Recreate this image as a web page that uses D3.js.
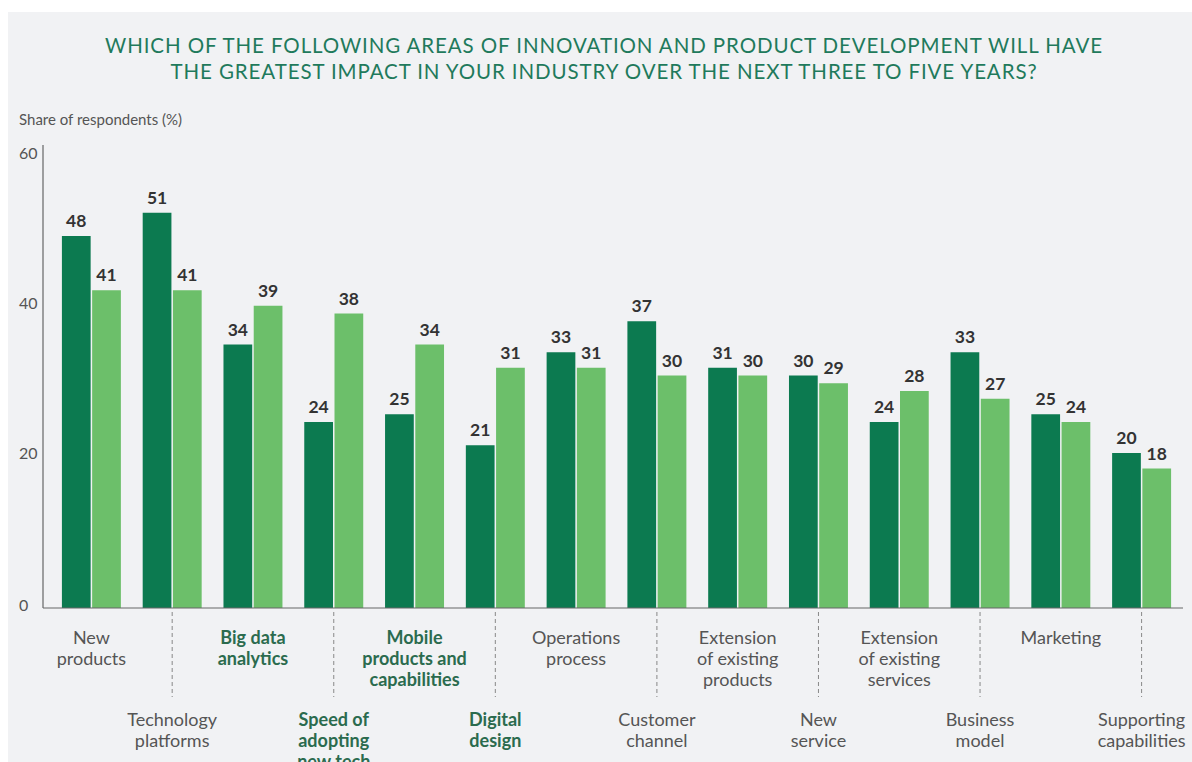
<!DOCTYPE html>
<html>
<head>
<meta charset="utf-8">
<script src="https://cdn.jsdelivr.net/npm/d3@7"></script>
<style>
  html, body { margin: 0; padding: 0; background: #ffffff; }
  svg { display: block; }
</style>
</head>
<body>
<svg id="chart" width="1192" height="762"></svg>
<script>
// Innovation areas expected to have the greatest impact (share of respondents, %)
const categories = [
  "New products", "Technology platforms", "Big data analytics", "Speed of adopting new tech",
  "Mobile products and capabilities", "Digital design", "Operations process", "Customer channel",
  "Extension of existing products", "New service", "Extension of existing services",
  "Business model", "Marketing", "Supporting capabilities"
];
const categoryLines = [
  ["New", "products"], ["Technology", "platforms"], ["Big data", "analytics"],
  ["Speed of", "adopting", "new tech"], ["Mobile", "products and", "capabilities"],
  ["Digital", "design"], ["Operations", "process"], ["Customer", "channel"],
  ["Extension", "of existing", "products"], ["New", "service"],
  ["Extension", "of existing", "services"], ["Business", "model"], ["Marketing"],
  ["Supporting", "capabilities"]
];
const highlighted = ["Big data analytics", "Speed of adopting new tech",
  "Mobile products and capabilities", "Digital design"];
const seriesNames = ["Series A", "Series B"];
const seriesA = [48, 51, 34, 24, 25, 21, 33, 37, 31, 30, 24, 33, 25, 20];
const seriesB = [41, 41, 39, 38, 34, 31, 31, 30, 30, 29, 28, 27, 24, 18];
const yTicks = [0, 20, 40, 60];

const svg = d3.select("#chart");
const W = 1192, H = 762;

// panel background
svg.append("rect").attr("x", 8).attr("y", 12).attr("width", W - 8).attr("height", H - 12)
  .attr("fill", "#f1f2f4");

const font = "Lato, 'Open Sans', sans-serif";

// title
const title = svg.append("text").attr("text-anchor", "middle")
  .attr("font-family", font).attr("font-size", 20.5).attr("fill", "#1f7a5c")
  .attr("letter-spacing", 0.9);
title.append("tspan").attr("x", 604).attr("y", 53)
  .text("WHICH OF THE FOLLOWING AREAS OF INNOVATION AND PRODUCT DEVELOPMENT WILL HAVE");
title.append("tspan").attr("x", 604).attr("y", 79)
  .text("THE GREATEST IMPACT IN YOUR INDUSTRY OVER THE NEXT THREE TO FIVE YEARS?");

svg.append("text").attr("x", 19).attr("y", 125)
  .attr("font-family", font).attr("font-size", 15).attr("fill", "#555")
  .text("Share of respondents (%)");

// scales
const y = d3.scaleLinear().domain([0, 60]).range([608, 143]);
const x0 = d3.scaleBand().domain(categories).range([51, 1182])
  .paddingInner(0.27).paddingOuter(0.135);
const x1 = d3.scaleBand().domain(seriesNames).range([0, x0.bandwidth()]).paddingInner(0.05);
const colors = d3.scaleOrdinal().domain(seriesNames).range(["#0c7a50", "#6cbf6a"]);

// y axis
const yAxis = d3.axisLeft(y).tickValues(yTicks).tickSize(0).tickPadding(7);
const gy = svg.append("g").attr("transform", "translate(43,0)").call(yAxis);
gy.select(".domain").remove();
gy.selectAll("text").attr("font-family", font).attr("font-size", 16).attr("fill", "#555")
  .attr("text-anchor", "start").attr("x", -24)
  .attr("dy", d => (d === 60 ? 10 : d === 40 ? 5 : d === 0 ? -3 : 0) + 5);
svg.append("line").attr("x1", 43).attr("x2", 43).attr("y1", 145).attr("y2", 608)
  .attr("stroke", "#666").attr("stroke-width", 1.2);

// bars
const data = categories.map((c, i) => ({ cat: c, values: [
  { key: seriesNames[0], value: seriesA[i] },
  { key: seriesNames[1], value: seriesB[i] }
]}));

const groups = svg.append("g").selectAll("g").data(data).join("g")
  .attr("transform", d => `translate(${x0(d.cat)},0)`);

groups.selectAll("rect").data(d => d.values).join("rect")
  .attr("x", d => x1(d.key))
  .attr("y", d => y(d.value))
  .attr("width", x1.bandwidth())
  .attr("height", d => y(0) - y(d.value))
  .attr("fill", d => colors(d.key));

groups.selectAll("text.val").data(d => d.values).join("text")
  .attr("class", "val")
  .attr("x", d => x1(d.key) + x1.bandwidth() / 2)
  .attr("y", d => y(d.value) - 9)
  .attr("text-anchor", "middle")
  .attr("font-family", font).attr("font-size", 17.5).attr("font-weight", "bold")
  .attr("fill", "#333")
  .text(d => d.value);

// baseline
svg.append("line").attr("x1", 43).attr("x2", 1183).attr("y1", 608).attr("y2", 608)
  .attr("stroke", "#666").attr("stroke-width", 1.2);

// category labels, alternating between two rows
const labelG = svg.append("g");
categories.forEach((c, i) => {
  const cx = x0(c) + x0.bandwidth() / 2;
  const lower = i % 2 === 1;
  if (lower) {
    labelG.append("line").attr("x1", cx).attr("x2", cx).attr("y1", 612).attr("y2", 697)
      .attr("stroke", "#888").attr("stroke-width", 1).attr("stroke-dasharray", "4,3");
  }
  const isHi = highlighted.includes(c);
  const t = labelG.append("text").attr("text-anchor", "middle")
    .attr("font-family", font).attr("font-size", 18)
    .attr("font-weight", isHi ? "bold" : "normal")
    .attr("fill", isHi ? "#2b6b4e" : "#555");
  categoryLines[i].forEach((ln, j) => {
    t.append("tspan").attr("x", cx).attr("y", (lower ? 726 : 644) + j * 21).text(ln);
  });
});
</script>
</body>
</html>
